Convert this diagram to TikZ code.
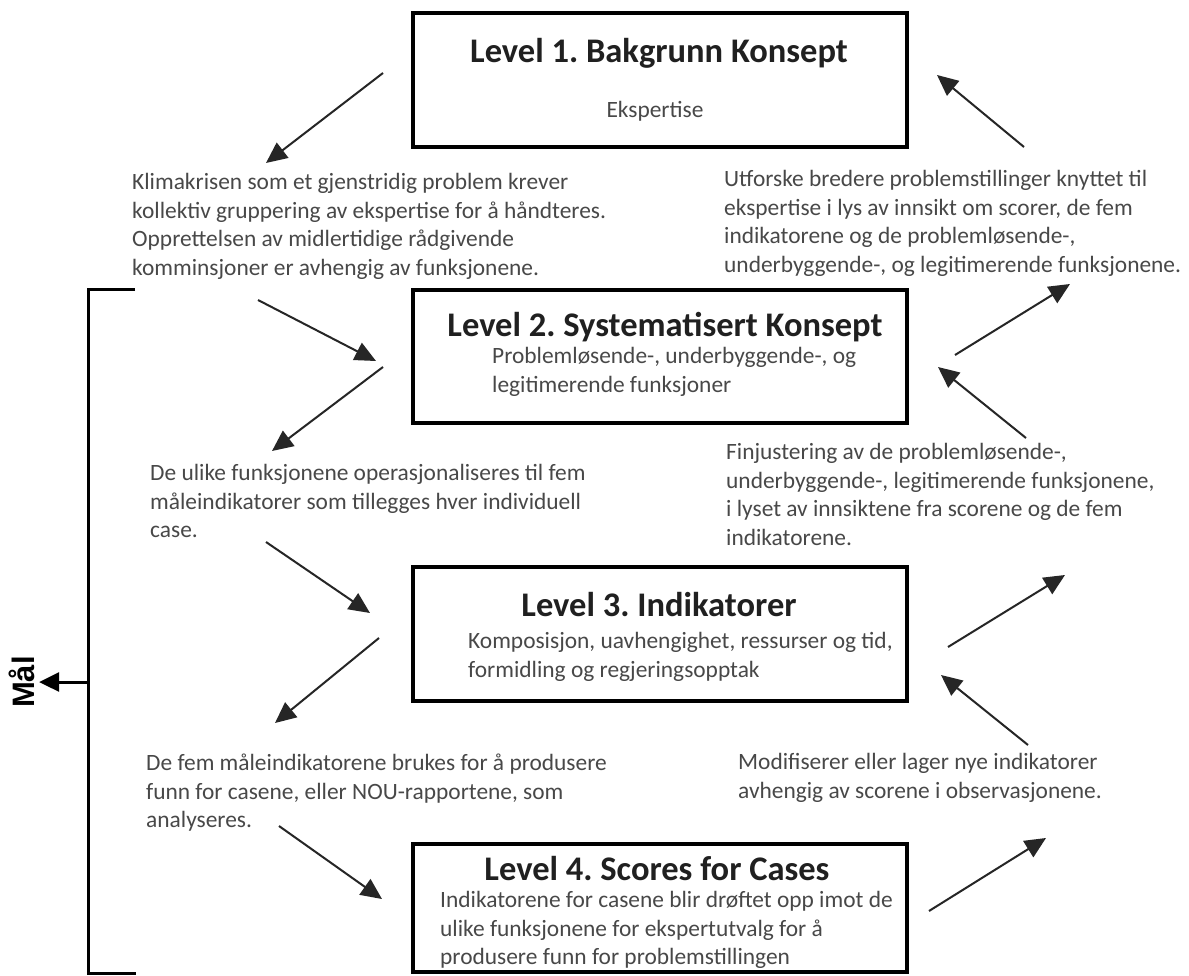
\documentclass[tikz,border=0pt]{standalone}
\usepackage{fontspec}
\setmainfont{Carlito}
\newfontfamily\malfont{Liberation Sans}
\usetikzlibrary{arrows.meta}
\definecolor{txt}{RGB}{72,72,72}
\definecolor{ttl}{RGB}{32,32,32}
\frenchspacing
\begin{document}
\begin{tikzpicture}[x=1pt,y=-1pt,
  lvlbox/.style={draw=black,line width=4pt,inner sep=0pt},
  ttlnode/.style={font=\bfseries\fontsize{34.5}{40}\selectfont,text=ttl,inner sep=0pt},
  bodytxt/.style={font=\fontsize{23.4}{28.6}\selectfont,text=txt,align=left,anchor=north west,inner sep=0pt},
  conn/.style={line width=2pt,draw=black!85,-{Triangle[length=21pt,width=19pt]}},
  bracket/.style={line width=3pt,draw=black},
]
\useasboundingbox (0,0) rectangle (1189,976);
\fill[white] (0,0) rectangle (1189,976);

% level boxes
\node[lvlbox,minimum width=494pt,minimum height=134pt] (b1) at (660,80) {};
\node[lvlbox,minimum width=494pt,minimum height=133pt] (b2) at (660,356.5) {};
\node[lvlbox,minimum width=494pt,minimum height=134pt] (b3) at (660,634) {};
\node[lvlbox,minimum width=494pt,minimum height=128pt] (b4) at (660,908) {};

% titles and contents
\node[ttlnode] (t1) at (659,53) {Level 1. Bakgrunn Konsept};
\node[font=\fontsize{23.4}{28.6}\selectfont,text=txt,inner sep=0pt] (s1) at (655,111) {Ekspertise};
\node[ttlnode] (t2) at (665,327) {Level 2. Systematisert Konsept};
\node[bodytxt] (s2) at (492,347) {Problemløsende-, underbyggende-, og\\legitimerende funksjoner};
\node[ttlnode] (t3) at (659,605) {Level 3. Indikatorer};
\node[bodytxt] (s3) at (468,632) {Komposisjon, uavhengighet, ressurser og tid,\\formidling og regjeringsopptak};
\node[ttlnode] (t4) at (657,869) {Level 4. Scores for Cases};
\node[bodytxt] (s4) at (440,891) {Indikatorene for casene blir drøftet opp imot de\\ulike funksjonene for ekspertutvalg for å\\produsere funn for problemstillingen};

% side texts
\node[bodytxt] (k) at (132,173) {Klimakrisen som et gjenstridig problem krever\\kollektiv gruppering av ekspertise for å håndteres.\\Opprettelsen av midlertidige rådgivende\\komminsjoner er avhengig av funksjonene.};
\node[bodytxt] (u) at (724,170) {Utforske bredere problemstillinger knyttet til\\ekspertise i lys av innsikt om scorer, de fem\\indikatorene og de problemløsende-,\\underbyggende-, og legitimerende funksjonene.};
\node[bodytxt] (d) at (150,464) {De ulike funksjonene operasjonaliseres til fem\\måleindikatorer som tillegges hver individuell\\case.};
\node[bodytxt] (f) at (726,443) {Finjustering av de problemløsende-,\\underbyggende-, legitimerende funksjonene,\\i lyset av innsiktene fra scorene og de fem\\indikatorene.};
\node[bodytxt] (m) at (146,754) {De fem måleindikatorene brukes for å produsere\\funn for casene, eller NOU-rapportene, som\\analyseres.};
\node[bodytxt] (o) at (738,753) {Modifiserer eller lager nye indikatorer\\avhengig av scorene i observasjonene.};

% arrow end points
\coordinate (a1s) at (383,73);   \coordinate (a1e) at (266,163);
\coordinate (a2s) at (258,300);  \coordinate (a2e) at (376,361);
\coordinate (a3s) at (383,367);  \coordinate (a3e) at (272,451);
\coordinate (a4s) at (266,542);  \coordinate (a4e) at (370,613);
\coordinate (a5s) at (379,638);  \coordinate (a5e) at (275,723);
\coordinate (a6s) at (279,826);  \coordinate (a6e) at (382,899);
\coordinate (a7s) at (929,911);  \coordinate (a7e) at (1046,838);
\coordinate (a8s) at (948,647);  \coordinate (a8e) at (1065,575);
\coordinate (a9s) at (1026,438); \coordinate (a9e) at (938,367);
\coordinate (a10s) at (955,355); \coordinate (a10e) at (1070,284);
\coordinate (a11s) at (1024,147);\coordinate (a11e) at (937,75);
\coordinate (a12s) at (1028,745);\coordinate (a12e) at (941,675);

\foreach \i in {1,...,12} {\draw[conn] (a\i s) -- (a\i e);}

% Mål bracket
\coordinate (bt) at (135,290);
\coordinate (btl) at (88,290);
\coordinate (bbl) at (88,973);
\coordinate (bb) at (136,973);
\draw[bracket] (bt) -- (btl) -- (bbl) -- (bb);
\coordinate (mo) at (88,682);
\node[font=\malfont\bfseries\fontsize{31}{34}\selectfont,rotate=90,inner sep=0pt] (mal) at (22,682) {Mål};
\draw[line width=3pt,-{Triangle[length=20pt,width=19pt]}] (mo) -- ([xshift=4pt]mal.south);
\end{tikzpicture}
\end{document}
